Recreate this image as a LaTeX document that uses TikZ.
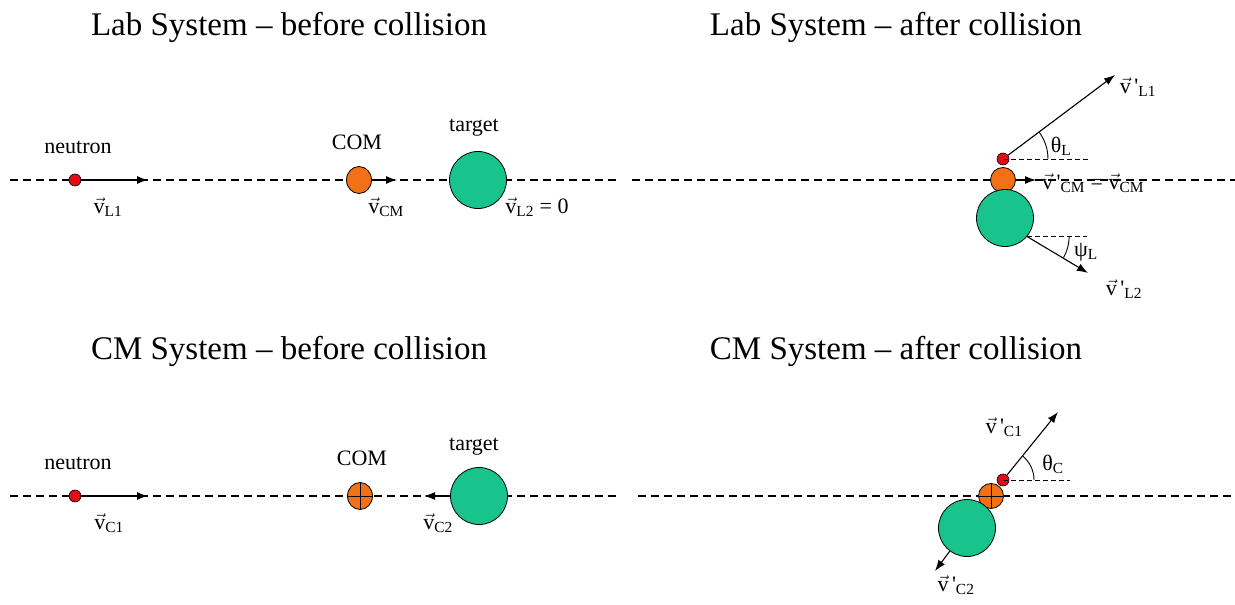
\documentclass[tikz,border=0pt]{standalone}
\usepackage{amsmath}
\usepackage{fontspec}
\setmainfont{Liberation Serif}
\usetikzlibrary{shapes.geometric, arrows.meta, positioning}

\definecolor{neutronred}{RGB}{225,12,22}
\definecolor{comorange}{RGB}{242,112,22}
\definecolor{targetgreen}{RGB}{24,196,140}

% vector labels
\newcommand{\vlab}[1]{$\vec{\text{v}}_{\text{#1}}$}
\newcommand{\vplab}[1]{$\vec{\text{v}}\,\text{\textquotesingle}_{\text{#1}}$}

\begin{document}
\begin{tikzpicture}[x=1pt, y=1pt]
    \tikzstyle{headline} = [anchor=base, font=\fontsize{33}{38}\selectfont]
    \tikzstyle{tag} = [font=\fontsize{22}{26}\selectfont]
    \tikzstyle{vlabel} = [font=\fontsize{22}{26}\selectfont, inner sep=0pt]
    \tikzstyle{axisline} = [dash pattern=on 8pt off 5pt, line width=1.2pt]
    \tikzstyle{refline} = [dash pattern=on 5pt off 3pt, line width=0.9pt]
    \tikzstyle{line} = [draw, -{Latex[length=11pt,width=8pt]}, line width=1.1pt]
    \tikzstyle{neutronball} = [circle, draw, fill=neutronred, minimum size=12pt, inner sep=0pt, line width=0.6pt]
    \tikzstyle{comball} = [ellipse, draw, fill=comorange, minimum width=25pt, minimum height=27pt, inner sep=0pt, line width=0.8pt]
    \tikzstyle{targetball} = [circle, draw, fill=targetgreen, minimum size=57pt, inner sep=0pt, line width=0.8pt]

    \useasboundingbox (0,0) rectangle (1235,605);

    % titles
    \node [headline] (t1) at (289,569) {Lab System – before collision};
    \node [headline] (t2) at (896,569) {Lab System – after collision};
    \node [headline] (t3) at (289,245) {CM System – before collision};
    \node [headline] (t4) at (896,245) {CM System – after collision};

    % Lab system, before collision
    \coordinate (a1l) at (10,425);
    \coordinate (a1r) at (617,425);
    \draw [axisline] (a1l) -- (a1r);
    \node [neutronball] (n1) at (75,425) {};
    \node [comball] (c1) at (359,425) {};
    \node [targetball] (g1) at (478,425) {};
    \coordinate (n1tip) at (148,425);
    \coordinate (c1tip) at (397,425);
    \draw [line] (n1) -- (n1tip);
    \draw [line] (c1) -- (c1tip);
    \node [tag] (n1lab) at (78,458) {neutron};
    \node [tag] (c1lab) at (357,463) {COM};
    \node [tag] (g1lab) at (474,477) {target};
    \node [vlabel] (vL1) at (108,398) {\vlab{L1}};
    \node [vlabel] (vCM) at (386,398) {\vlab{CM}};
    \node [vlabel] (vL2) at (537,398) {\vlab{L2} = 0};

    % Lab system, after collision
    \coordinate (a2l) at (632,425);
    \coordinate (a2r) at (1235,425);
    \draw [axisline] (a2l) -- (a2r);
    \node [neutronball] (n2) at (1003,446) {};
    \node [circle, draw, fill=comorange, minimum size=25pt, inner sep=0pt, line width=0.8pt] (c2) at (1003,425) {};
    \node [targetball] (g2) at (1005,387) {};
    \coordinate (n2tip) at (1115,530);
    \coordinate (c2tip) at (1036,425);
    \coordinate (g2out) at (g2.-40);
    \coordinate (g2tip) at (1088,332);
    \draw [line] (n2) -- (n2tip);
    \draw [line] (c2) -- (c2tip);
    \draw [line] (g2out) -- (g2tip);
    \draw [refline] (n2.center) -- ++(85,0);
    \draw [refline] (g2out) -- ++(60,0);
    \draw [line width=0.9pt] (n2.center) ++(45,0) arc[start angle=0, end angle=37, radius=45];
    \draw [line width=0.9pt] (g2out) ++(42,0) arc[start angle=0, end angle=-30, radius=42];
    \node [vlabel] (vL1p) at (1138,518) {\vplab{L1}};
    \node [vlabel, anchor=west] (vCMp) at (1042,422) {\vplab{CM} = \vlab{CM}};
    \node [vlabel] (vL2p) at (1124,316) {\vplab{L2}};
    \node [tag] (thL) at (1061,459) {θ$_{\text{L}}$};
    \node [tag] (psL) at (1086,353) {ψ$_{\text{L}}$};

    % CM system, before collision
    \coordinate (a3l) at (10,109);
    \coordinate (a3r) at (617,109);
    \draw [axisline] (a3l) -- (a3r);
    \node [neutronball] (n3) at (75,109) {};
    \node [comball] (c3) at (360,109) {};
    \node [targetball] (g3) at (479,109) {};
    \draw [line width=0.8pt] (c3.north) -- (c3.south) (c3.west) -- (c3.east);
    \coordinate (n3tip) at (148,109);
    \coordinate (g3tip) at (424,109);
    \draw [line] (n3) -- (n3tip);
    \draw [line] (g3) -- (g3tip);
    \node [tag] (n3lab) at (78,142) {neutron};
    \node [tag] (c3lab) at (362,147) {COM};
    \node [tag] (g3lab) at (474,158) {target};
    \node [vlabel] (vC1) at (109,82) {\vlab{C1}};
    \node [vlabel] (vC2) at (438,82) {\vlab{C2}};

    % CM system, after collision
    \coordinate (a4l) at (638,109);
    \coordinate (a4r) at (1235,109);
    \draw [axisline] (a4l) -- (a4r);
    \node [circle, draw, fill=comorange, minimum size=25pt, inner sep=0pt, line width=0.8pt] (c4) at (991,109) {};
    \draw [line width=0.8pt] (c4.north) -- (c4.south) (c4.west) -- (c4.east);
    \node [neutronball] (n4) at (1003,125) {};
    \node [targetball] (g4) at (967,77) {};
    \coordinate (n4tip) at (1058,193);
    \coordinate (g4tip) at (935,34);
    \draw [line] (n4) -- (n4tip);
    \draw [line] (g4) -- (g4tip);
    \draw [refline] (n4.center) -- ++(67,0);
    \draw [line width=0.9pt] (n4.center) ++(31,0) arc[start angle=0, end angle=51, radius=31];
    \node [vlabel] (vC1p) at (1004,178) {\vplab{C1}};
    \node [vlabel] (vC2p) at (956,20) {\vplab{C2}};
    \node [tag] (thC) at (1053,141) {θ$_{\text{C}}$};
\end{tikzpicture}
\end{document}
